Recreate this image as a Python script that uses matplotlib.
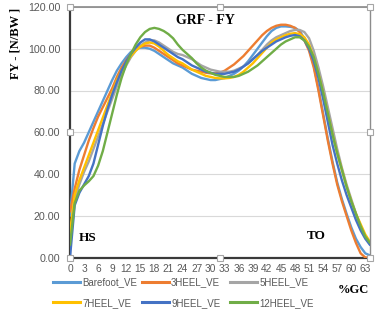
import matplotlib
matplotlib.use("Agg")
import matplotlib.pyplot as plt
from matplotlib.lines import Line2D

gc = list(range(65))
xticks = list(range(0, 64, 3))
yticks = [0, 20, 40, 60, 80, 100, 120]

barefoot = [20, 45, 51, 55, 60, 65, 70, 75, 80, 85, 89.5, 93, 96, 98.5, 100, 100.5, 100.5, 100, 99, 97.5,
            96, 94.5, 93, 92, 91, 89.5, 88, 87, 86, 85.5, 85, 85, 85.5, 86, 87, 88, 89.5, 91.5, 94, 97,
            100, 103, 106, 108.5, 110, 110.7, 110.7, 110.5, 110, 108.5, 105, 100, 92, 81, 69, 57, 46, 36, 28, 21,
            14.5, 9, 5, 2, 1]
heel3 = [22, 33, 42, 49, 56, 62, 67.5, 72, 76.5, 81, 86.5, 91, 94.5, 97.5, 99.5, 101, 101.5, 101.5, 100.5, 99,
         97.5, 96, 94.5, 93, 92, 91, 90, 89.5, 89, 88.5, 88.2, 88.2, 88.5, 89.5, 91, 92.5, 94.5, 96.5, 99, 101.5,
         104, 106.5, 108.5, 110, 111, 111.5, 111.5, 111, 110, 108, 104, 99, 91, 80, 68, 56, 45, 35, 27, 20,
         13, 7, 2, 0, 0]
heel5 = [10, 28, 35, 41, 46, 52, 58, 64, 70, 76, 82, 87.5, 92, 96, 99, 101.5, 103, 104, 104, 103,
         101.5, 100, 98.5, 97.5, 97, 96, 95, 93.5, 92, 91, 90, 89.5, 89, 89, 89, 89.5, 90.5, 91.5, 93, 95,
         97, 99.5, 102, 104, 105.5, 106.5, 107.5, 108.5, 109, 109, 108, 105, 99, 91, 82, 72, 62, 52, 43, 35,
         28, 21, 15, 10, 7]
heel7 = [12, 30, 37, 43, 49, 55, 61, 67, 73, 79, 85, 89.5, 93.5, 96.5, 99, 101, 102.5, 103, 102.5, 101,
         99, 97, 95.5, 94, 93, 91.5, 90, 89, 88, 87, 86.5, 86, 85.8, 85.8, 86, 86.5, 87.5, 89, 91, 93,
         95.5, 98, 100.5, 103, 104.5, 105.5, 106.5, 107.2, 107.5, 107, 105.5, 102, 96, 88, 79, 69, 59, 50, 42, 34,
         27, 21, 16, 11, 7.5]
heel9 = [0, 25, 31, 35, 39, 45, 54, 63, 71, 78, 84, 89.5, 94, 97.5, 100.5, 103, 104.5, 104.5, 103.5, 102,
         100.5, 99, 97.5, 96, 95, 93.5, 92, 91, 90, 89, 88.5, 88, 88, 88, 88.5, 89, 90, 91.5, 93, 95,
         97, 99, 100.5, 102, 103.5, 104.5, 105.5, 106.2, 106.6, 106, 104, 100, 94, 86, 76, 65, 54, 45, 37, 30,
         24, 18, 13, 9, 6]
heel12 = [6, 26, 32, 34.5, 36.5, 39, 44, 51, 60, 69, 78, 86, 92.5, 97.5, 102, 105.5, 108, 109.5, 110, 109.5,
          108.5, 107, 105, 102, 99.5, 97.5, 95.5, 93, 91, 89.5, 88.5, 87.5, 87, 86.5, 86.5, 86.5, 87, 88, 89, 90.5,
          92, 94, 96, 98, 100, 102, 103.5, 104.5, 105.5, 105.5, 104, 101, 96, 88, 79, 69, 59, 50, 42, 34,
          27, 21, 15, 10, 7]

series = [
    ("Barefoot_VE", barefoot, "#5B9BD5"),
    ("3HEEL_VE", heel3, "#ED7D31"),
    ("5HEEL_VE", heel5, "#A5A5A5"),
    ("7HEEL_VE", heel7, "#FFC000"),
    ("9HEEL_VE", heel9, "#4472C4"),
    ("12HEEL_VE", heel12, "#70AD47"),
]

W, H = 375, 313
fig = plt.figure(figsize=(W / 100, H / 100), dpi=100)
ax = fig.add_axes([70 / W, 1 - 257.5 / H, 300 / W, 250.5 / H])

for name, vals, col in series:
    ax.plot(gc, vals, color=col, lw=1.7, solid_capstyle="round", solid_joinstyle="round", zorder=3)

ax.set_xlim(0, 64)
ax.set_ylim(0, 120)
ax.set_xticks(xticks)
ax.set_xticklabels([str(t) for t in xticks])
ax.set_yticks(yticks)
ax.set_yticklabels([f"{t:.2f}" for t in yticks])
ax.tick_params(length=0, labelsize=7.7, colors="#595959")
ax.tick_params(axis="y", pad=7)
ax.tick_params(axis="x", pad=5, labelsize=7.3)
for lab in ax.get_xticklabels() + ax.get_yticklabels():
    lab.set_fontfamily("Liberation Sans")
ax.grid(axis="y", color="#D9D9D9", lw=0.8, zorder=0)
ax.set_axisbelow(True)
ax.spines["left"].set_color("#3A3A3A")
ax.spines["left"].set_linewidth(1.6)
ax.spines["bottom"].set_color("#3A3A3A")
ax.spines["bottom"].set_linewidth(1.6)
ax.spines["top"].set_color("#7F7F7F")
ax.spines["top"].set_linewidth(1.1)
ax.spines["right"].set_color("#8C8C8C")
ax.spines["right"].set_linewidth(1.0)

# selection handles
hx = [0, 0.5, 1, 1, 1, 0.5, 0, 0]
hy = [1, 1, 1, 0.5, 0, 0, 0, 0.5]
ax.plot(hx, hy, ls="none", marker="s", ms=4, mfc="white", mec="#A6A6A6", mew=0.8,
        transform=ax.transAxes, clip_on=False, zorder=10)

serif = "Liberation Serif"
fig.text(205 / W, 1 - 20 / H, "GRF - FY", ha="center", va="center",
         fontfamily=serif, fontweight="bold", fontsize=10)
fig.text(16 / W, 1 - 43 / H, "FY - [N/BW ]", rotation=90, ha="center", va="center",
         fontfamily=serif, fontweight="bold", fontsize=9)
fig.text(88 / W, 1 - 238 / H, "HS", ha="center", va="center", fontfamily=serif, fontweight="bold", fontsize=9.5)
fig.text(316 / W, 1 - 236 / H, "TO", ha="center", va="center", fontfamily=serif, fontweight="bold", fontsize=9.5)
fig.text(353 / W, 1 - 290 / H, "%GC", ha="center", va="center", fontfamily=serif, fontweight="bold", fontsize=9)

# legend: three columns, two rows
col_x = [53, 142, 230]
columns = [[0, 3], [1, 4], [2, 5]]
for cx, idxs in zip(col_x, columns):
    handles = [Line2D([0], [0], color=series[i][2], lw=2.2) for i in idxs]
    labels = [series[i][0] for i in idxs]
    leg = fig.legend(handles, labels, loc="upper left", bbox_to_anchor=(cx / W, 1 - 277 / H),
                     frameon=False, borderpad=0, borderaxespad=0, handlelength=2.8,
                     handletextpad=0.2, labelspacing=1.1,
                     prop={"family": "Liberation Sans", "size": 7})
    for t in leg.get_texts():
        t.set_color("#595959")

fig.savefig("out.png", dpi=100)
